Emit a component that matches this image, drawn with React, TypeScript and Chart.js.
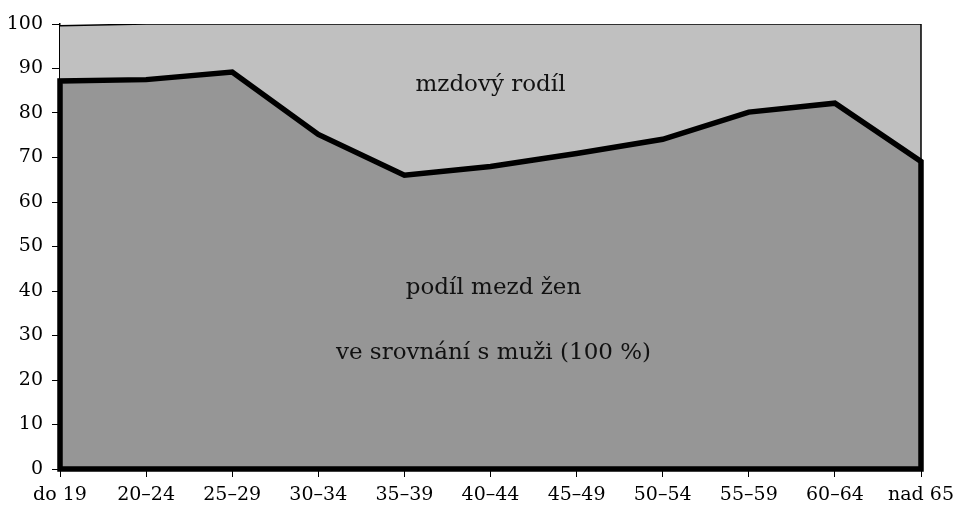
import React, { useEffect, useRef } from "react";
import { Chart, registerables } from "chart.js";

Chart.register(...registerables);

const categories = ["do 19", "20–24", "25–29", "30–34", "35–39", "40–44", "45–49", "50–54", "55–59", "60–64", "nad 65"];
const womenShare = [87.2, 87.5, 89.2, 75.2, 66, 68, 70.9, 74.1, 80.2, 82.2, 69.1];
const menLevel = [99.6, 100, 100, 100, 100, 100, 100, 100, 100, 100, 100];
const yTicks = [0, 10, 20, 30, 40, 50, 60, 70, 80, 90, 100];
const gapLabel = "mzdový rodíl";
const shareLabel1 = "podíl mezd žen";
const shareLabel2 = "ve srovnání s muži (100 %)";

const FONT = "'DejaVu Serif', serif";

const outlinePlugin = {
  id: "outlineAndText",
  afterDatasetsDraw(chart: any) {
    const { ctx, scales } = chart;
    const x = scales.x;
    const y = scales.y;
    ctx.save();
    // thick outline of women's area
    ctx.beginPath();
    ctx.moveTo(x.getPixelForValue(0), y.getPixelForValue(0));
    womenShare.forEach((v, i) => ctx.lineTo(x.getPixelForValue(i), y.getPixelForValue(v)));
    ctx.lineTo(x.getPixelForValue(womenShare.length - 1), y.getPixelForValue(0));
    ctx.closePath();
    ctx.lineWidth = 5.5;
    ctx.lineJoin = "miter";
    ctx.strokeStyle = "#000";
    ctx.stroke();
    // thin right edge of the upper area
    ctx.beginPath();
    const xr = x.getPixelForValue(menLevel.length - 1);
    ctx.moveTo(xr, y.getPixelForValue(menLevel[menLevel.length - 1]));
    ctx.lineTo(xr, y.getPixelForValue(womenShare[womenShare.length - 1]));
    ctx.lineWidth = 1.5;
    ctx.stroke();
    // annotations
    ctx.fillStyle = "#111";
    ctx.font = `23px ${FONT}`;
    ctx.textAlign = "center";
    ctx.textBaseline = "alphabetic";
    const cx = x.getPixelForValue(5);
    ctx.fillText(gapLabel, cx, y.getPixelForValue(84.9));
    ctx.fillText(shareLabel1, cx + 3, y.getPixelForValue(39.4));
    ctx.fillText(shareLabel2, cx + 3, y.getPixelForValue(24.8));
    ctx.restore();
  },
};

export default function App() {
  const ref = useRef<HTMLCanvasElement | null>(null);
  useEffect(() => {
    if (!ref.current) return;
    const chart = new Chart(ref.current, {
      type: "line",
      data: {
        labels: categories,
        datasets: [
          {
            label: "ženy",
            data: womenShare,
            backgroundColor: "#969696",
            borderColor: "#000",
            borderWidth: 0,
            fill: "origin",
            pointRadius: 0,
            tension: 0,
          },
          {
            label: "muži",
            data: menLevel,
            backgroundColor: "#c0c0c0",
            borderColor: "#000",
            borderWidth: 1.5,
            fill: "origin",
            pointRadius: 0,
            tension: 0,
          },
        ],
      },
      options: {
        animation: false,
        responsive: true,
        maintainAspectRatio: false,
        layout: { padding: { left: 8, right: 35, top: 24, bottom: 0 } },
        plugins: { legend: { display: false }, tooltip: { enabled: false } },
        scales: {
          x: {
            type: "category",
            offset: false,
            grid: { display: true, drawOnChartArea: false, drawTicks: true, tickLength: 8, color: "#000" },
            border: { display: true, color: "#000", width: 1.5 },
            ticks: { color: "#000", font: { family: FONT, size: 19 }, padding: 7, maxRotation: 0, autoSkip: false },
            afterFit: (s: any) => { s.height = 37; s.paddingLeft = 0; s.paddingRight = 0; },
          },
          y: {
            min: 0,
            max: 100,
            afterBuildTicks: (s: any) => { s.ticks = yTicks.map((v) => ({ value: v })); },
            grid: { display: true, drawOnChartArea: false, drawTicks: true, tickLength: 8, color: "#000" },
            border: { display: true, color: "#000", width: 1.5 },
            ticks: { color: "#000", font: { family: FONT, size: 19 }, padding: 9 },
            afterFit: (s: any) => { s.width = 52; s.paddingTop = 0; s.paddingBottom = 0; },
          },
        },
      },
      plugins: [outlinePlugin],
    });
    return () => chart.destroy();
  }, []);
  return (
    <div style={{ position: "fixed", left: 0, top: 0, width: 956, height: 506, background: "#fff" }}>
      <canvas ref={ref} />
    </div>
  );
}
